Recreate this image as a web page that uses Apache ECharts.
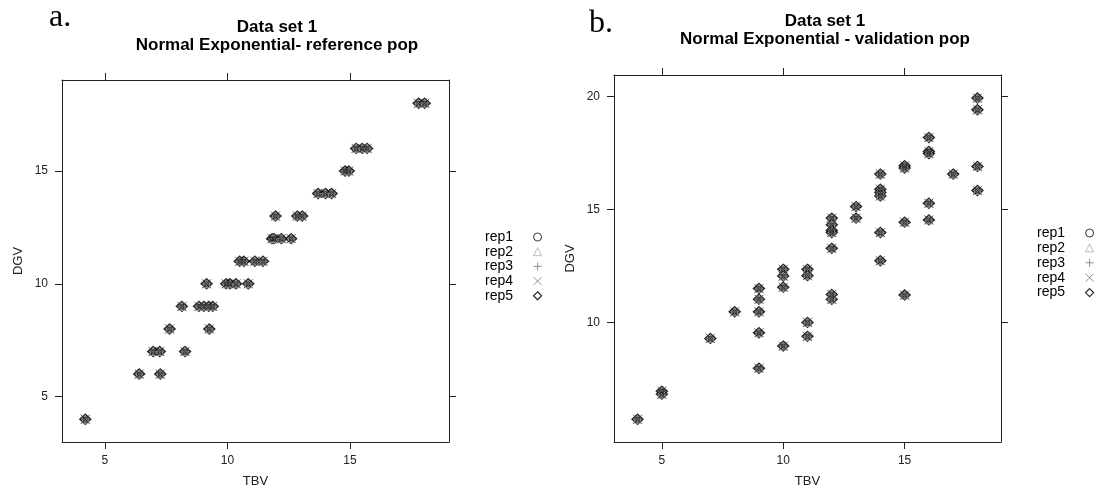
<!DOCTYPE html>
<html><head><meta charset="utf-8">
<script src="https://cdn.jsdelivr.net/npm/echarts@6/dist/echarts.min.js"></script>
<style>html,body{margin:0;padding:0;background:#fff}#c{width:1097px;height:496px}</style>
</head><body><div id="c"></div>
<script>
// ---- data ----
const repNames = ['rep1', 'rep2', 'rep3', 'rep4', 'rep5'];
const titleA = ['Data set 1', 'Normal Exponential- reference pop'];
const titleB = ['Data set 1', 'Normal Exponential - validation pop'];
const panelLabels = ['a.', 'b.'];
const xName = 'TBV';
const yName = 'DGV';

const aTBV = [4.2, 6.4, 7.26, 6.97, 7.24, 8.27, 7.64, 9.26, 8.14, 8.84, 9.04, 9.24, 9.4,
  9.15, 9.95, 10.1, 10.35, 10.85, 10.5, 10.67, 11.12, 11.45, 11.82, 11.9, 12.2, 12.6,
  11.96, 12.85, 13.05, 13.7, 14.0, 14.25, 14.8, 14.95, 15.25, 15.5, 15.7, 17.8, 18.05];
const aDGV = [4, 6, 6, 7, 7, 7, 8, 8, 9, 9, 9, 9, 9,
  10, 10, 10, 10, 10, 11, 11, 11, 11, 12, 12, 12, 12,
  13, 13, 13, 14, 14, 14, 15, 15, 16, 16, 16, 18, 18];

const bTBV = [4, 5, 5, 7, 8, 9, 9, 9, 9, 9, 10, 10, 10, 10, 11, 11, 11, 11,
  12, 12, 12, 12, 12, 12, 12, 13, 13, 14, 14, 14, 14, 14, 14, 15, 15, 15, 15,
  16, 16, 16, 16, 16, 17, 18, 18, 18, 18];
const bDGV = [5.71, 6.95, 6.82, 9.29, 10.47, 11.5, 11.03, 10.47, 9.54, 7.97,
  12.35, 12.05, 11.56, 8.95, 12.35, 12.07, 10.0, 9.38,
  14.62, 14.32, 14.07, 13.98, 13.28, 11.24, 11.02, 15.13, 14.62,
  16.57, 15.9, 15.75, 15.6, 13.98, 12.73, 16.94, 16.84, 14.44, 11.21,
  18.19, 17.57, 17.48, 15.28, 14.54, 16.57, 19.94, 19.42, 16.91, 15.84];

const aXTicks = [5, 10, 15];
const aYTicks = [5, 10, 15];
const bXTicks = [5, 10, 15];
const bYTicks = [10, 15, 20];
const aXRange = [3.25, 19.04];
const aYRange = [2.99, 19.03];
const bXRange = [3.03, 18.97];
const bYRange = [4.70, 20.96];

// ---- styling ----
const FONT = 'Liberation Sans';
const plusPath = 'path://M5,0L5,10M0,5L10,5';
const xPath = 'path://M0,0L10,10M10,0L0,10';
const AX = '#222';

const repStyles = [
  { symbol: 'circle', size: 4, itemStyle: { color: 'rgba(0,0,0,0)', borderColor: '#222', borderWidth: 1 }, z: 5 },
  { symbol: 'triangle', size: 8, itemStyle: { color: 'rgba(0,0,0,0)', borderColor: '#aaa', borderWidth: 1 }, z: 4 },
  { symbol: plusPath, size: 8, itemStyle: { color: 'none', borderColor: '#888', borderWidth: 1 }, z: 4 },
  { symbol: xPath, size: 9, itemStyle: { color: 'none', borderColor: '#333', borderWidth: 1 }, z: 4 },
  { symbol: 'diamond', size: [11, 10], itemStyle: { color: '#5c5c5c', borderColor: '#000', borderWidth: 1.4 }, z: 3 }
];
const legendItems = [
  { name: 'rep1', icon: 'circle', itemStyle: { color: 'rgba(0,0,0,0)', borderColor: '#000', borderWidth: 1 } },
  { name: 'rep2', icon: 'triangle', itemStyle: { color: 'rgba(0,0,0,0)', borderColor: '#aaa', borderWidth: 1 } },
  { name: 'rep3', icon: plusPath, itemStyle: { color: 'none', borderColor: '#777', borderWidth: 1 } },
  { name: 'rep4', icon: xPath, itemStyle: { color: 'none', borderColor: '#777', borderWidth: 1 } },
  { name: 'rep5', icon: 'diamond', itemStyle: { color: 'rgba(0,0,0,0)', borderColor: '#000', borderWidth: 1.3 } }
];

function zip(xs, ys) { return xs.map((x, i) => [x, ys[i]]); }

function xAxes(grid, range, ticks) {
  const common = {
    type: 'value', gridIndex: grid, min: range[0], max: range[1],
    splitLine: { show: false },
    axisLine: { show: true, onZero: false, lineStyle: { color: AX, width: 1 } },
    axisTick: { show: true, inside: false, length: 7, customValues: ticks, lineStyle: { color: AX, width: 1 } }
  };
  return [
    Object.assign({}, common, {
      position: 'bottom', name: xName, nameLocation: 'middle', nameGap: 33,
      nameTextStyle: { fontFamily: FONT, fontSize: 13, color: '#222' },
      axisLabel: { show: true, customValues: ticks, margin: 13, fontFamily: FONT, fontSize: 12, color: '#222' }
    }),
    Object.assign({}, common, { position: 'top', axisLabel: { show: false } })
  ];
}
function yAxes(grid, range, ticks) {
  const common = {
    type: 'value', gridIndex: grid, min: range[0], max: range[1],
    splitLine: { show: false },
    axisLine: { show: true, onZero: false, lineStyle: { color: AX, width: 1 } },
    axisTick: { show: true, inside: false, length: 7, customValues: ticks, lineStyle: { color: AX, width: 1 } }
  };
  return [
    Object.assign({}, common, {
      position: 'left', name: yName, nameLocation: 'middle', nameGap: 37,
      nameTextStyle: { fontFamily: FONT, fontSize: 13, color: '#222' },
      axisLabel: { show: true, customValues: ticks, margin: 14, fontFamily: FONT, fontSize: 12, color: '#222' }
    }),
    Object.assign({}, common, { position: 'right', axisLabel: { show: false } })
  ];
}

const series = [];
[[aTBV, aDGV, 0], [bTBV, bDGV, 2]].forEach(([xs, ys, axisIdx]) => {
  repNames.forEach((name, r) => {
    const st = repStyles[r];
    series.push({
      name, type: 'scatter', xAxisIndex: axisIdx, yAxisIndex: axisIdx,
      symbol: st.symbol, symbolSize: st.size, itemStyle: st.itemStyle, z: st.z,
      silent: true, emphasis: { disabled: true },
      data: zip(xs, ys)
    });
  });
});

function legend(left, top, gap) {
  return {
    orient: 'vertical', left, top, align: 'right', padding: 0,
    itemWidth: 8, itemHeight: 8, itemGap: gap, selectedMode: false,
    formatter: n => n + '    ',
    textStyle: { fontFamily: FONT, fontSize: 14, lineHeight: 13, color: '#000' },
    data: legendItems
  };
}

const titleStyle = { fontFamily: FONT, fontSize: 17, fontWeight: 'bold', lineHeight: 18, color: '#000' };
const labelStyle = { fontFamily: 'Liberation Serif', fontSize: 32, fontWeight: 'normal', lineHeight: 32, color: '#000' };

const option = {
  animation: false,
  backgroundColor: '#fff',
  title: [
    { text: panelLabels[0], left: 49, top: 2, padding: 0, textStyle: labelStyle },
    { text: titleA.join('\n'), left: 277, top: 18, textAlign: 'center', padding: 0, textStyle: titleStyle },
    { text: panelLabels[1], left: 589, top: 8, padding: 0, textStyle: labelStyle },
    { text: titleB.join('\n'), left: 825, top: 12, textAlign: 'center', padding: 0, textStyle: titleStyle }
  ],
  legend: [legend(485, 230, 0.7), legend(1037, 226, 0.9)],
  grid: [
    { left: 62, top: 80, width: 387, height: 362, outerBoundsMode: 'none' },
    { left: 614, top: 75, width: 387, height: 367, outerBoundsMode: 'none' }
  ],
  xAxis: [...xAxes(0, aXRange, aXTicks), ...xAxes(1, bXRange, bXTicks)],
  yAxis: [...yAxes(0, aYRange, aYTicks), ...yAxes(1, bYRange, bYTicks)],
  series
};

const chart = echarts.init(document.getElementById('c'), null, { renderer: 'canvas' });
chart.setOption(option);
</script></body></html>
